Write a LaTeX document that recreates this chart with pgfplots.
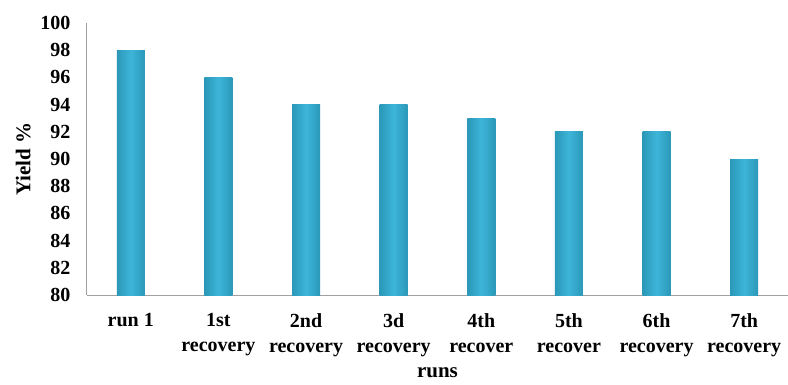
\documentclass[border=0pt]{standalone}
\usepackage{fontspec}
\setmainfont{Liberation Serif}
\usepackage{pgfplots}
\pgfplotsset{compat=1.18}
\definecolor{barmid}{HTML}{3DB5D9}
\definecolor{baredge}{HTML}{2B98B8}
\definecolor{axgray}{HTML}{A0A0A0}
\pgfplotsset{cyl/.style={ybar, bar width=28pt, bar shift=0pt, draw=none, left color=baredge, right color=baredge, middle color=barmid}}
\begin{document}
\begin{tikzpicture}
\begin{axis}[
  scale only axis,
  width=701pt, height=272pt,
  xmin=-0.5, xmax=7.5,
  ymin=80, ymax=100,
  ytick={80,82,...,100},
  xtick={0,...,7},
  xticklabels={run 1,{1st\\recovery},{2nd\\recovery},{3d\\recovery},{4th\\recover},{5th\\recover},{6th\\recovery},{7th\\recovery}},
  axis x line*=bottom,
  axis y line*=left,
  axis line style={axgray, line width=1pt},
  major tick length=0pt,
  /pgf/number format/assume math mode=true,
  tick label style={font=\fontsize{20}{25}\selectfont\bfseries, black},
  xticklabel style={align=center, yshift=-15pt},
  yticklabel style={xshift=-13pt},
  xlabel={runs}, ylabel={Yield \%},
  label style={font=\fontsize{21}{24}\selectfont\bfseries},
  xlabel style={yshift=-4pt},
  ylabel style={yshift=3pt},
  clip=false,
]
\addplot[cyl] coordinates {(0,98)};
\addplot[cyl] coordinates {(1,96)};
\addplot[cyl] coordinates {(2,94)};
\addplot[cyl] coordinates {(3,94)};
\addplot[cyl] coordinates {(4,93)};
\addplot[cyl] coordinates {(5,92)};
\addplot[cyl] coordinates {(6,92)};
\addplot[cyl] coordinates {(7,90)};
\end{axis}
\pgfresetboundingbox
\path (-87pt,-89pt) rectangle (701pt,295pt);
\end{tikzpicture}
\end{document}
